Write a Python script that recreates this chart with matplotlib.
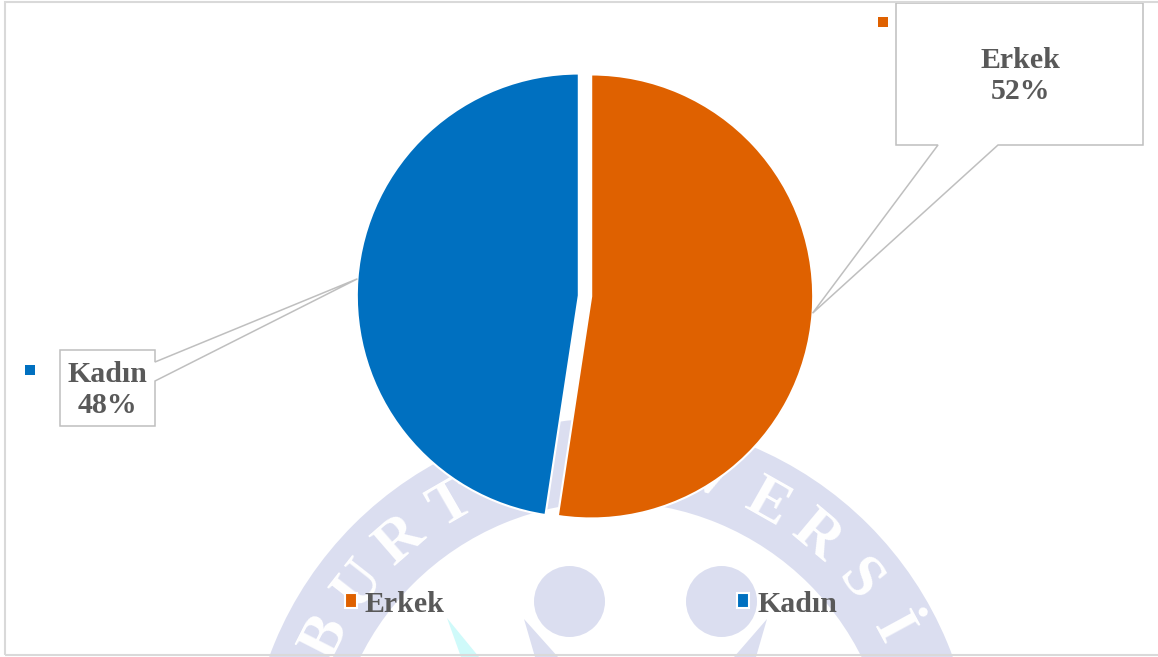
import matplotlib
matplotlib.use("Agg")
import matplotlib.pyplot as plt
import numpy as np
from matplotlib.patches import Wedge, Circle, Polygon, Rectangle

# data
labels = ["Erkek", "Kadın"]
shares = [52.4, 47.6]
colors = ["#DF6100", "#0070C0"]

W, H = 1158, 657
GREY = "#595959"
LAV = "#DBDEF0"
FONT = "Liberation Serif"


def Y(y):
    # image row -> data y
    return H - y


fig = plt.figure(figsize=(W / 100, H / 100), dpi=100)
ax = fig.add_axes([0, 0, 1, 1])

# --- faint logo watermark behind the chart ---
rc = (611, Y(782))
ax.add_patch(Wedge(rc, 364, 0, 360, width=84, facecolor=LAV, edgecolor="none", zorder=0))
letters = [("B", -63), ("U", -52), ("R", -41), ("T", -30),
           ("V", 18), ("E", 29.5), ("R", 40), ("S", 51), ("İ", 61.5)]
for ch, ang in letters:
    a = np.radians(ang)
    ax.text(rc[0] + 320 * np.sin(a), rc[1] + 320 * np.cos(a), ch, rotation=-ang,
            ha="center", va="center", color="white", fontsize=44, fontweight="bold",
            family=FONT, zorder=0.5, clip_on=True)
for cx in (569.5, 721.5):
    ax.add_patch(Circle((cx, Y(601.5)), 35.5, facecolor=LAV, edgecolor="none", zorder=0))
ax.add_patch(Polygon([(524, Y(619)), (558, Y(657)), (535, Y(657))], facecolor=LAV, edgecolor="none", zorder=0))
ax.add_patch(Polygon([(767, Y(619)), (756, Y(657)), (734, Y(657))], facecolor=LAV, edgecolor="none", zorder=0))
ax.add_patch(Polygon([(447, Y(618)), (479, Y(657)), (461, Y(657))], facecolor="#CFFAFA", edgecolor="none", zorder=0))

# --- pie ---
wedges, _ = ax.pie(shares, colors=colors, startangle=90, counterclock=False,
                   center=(585, Y(296)), radius=222, explode=[6.2, 6.2], frame=True,
                   wedgeprops=dict(edgecolor="white", linewidth=1.5))
for w in wedges:
    w.set_zorder(2)

# --- callout labels ---
total = sum(shares)
boxes = [
    # box (x0, y0, x1, y1) in image px, pointer base points, key square, text centre
    dict(box=(896, 3, 1143, 145), base=[(998, 145), (938, 145)], side="bottom",
         key=(878, 17), text=(1020, 76)),
    dict(box=(60, 350, 155, 426), base=[(155, 362), (155, 381)], side="right",
         key=(25, 365), text=(107, 390)),
]
for w, lab, val, b in zip(wedges, labels, shares, boxes):
    mid = np.radians((w.theta1 + w.theta2) / 2)
    tip = (w.center[0] + w.r * np.cos(mid), w.center[1] + w.r * np.sin(mid))
    x0, y0, x1, y1 = b["box"]
    if b["side"] == "bottom":
        pts = [(x0, y0), (x1, y0), (x1, y1), b["base"][0], None, b["base"][1], (x0, y1)]
    else:
        pts = [(x0, y0), (x1, y0), b["base"][0], None, b["base"][1], (x1, y1), (x0, y1)]
    poly = [(tip[0], tip[1]) if p is None else (p[0], Y(p[1])) for p in pts]
    ax.add_patch(Polygon(poly, closed=True, facecolor="white", edgecolor="#BFBFBF",
                         linewidth=1.1, zorder=3))
    ax.add_patch(Rectangle((b["key"][0], Y(b["key"][1] + 10)), 10, 10,
                           facecolor=w.get_facecolor(), edgecolor="none", zorder=3))
    ax.text(b["text"][0], Y(b["text"][1]), f"{lab}\n{val / total * 100:.0f}%",
            ha="center", va="center", color=GREY, fontsize=21.5, fontweight="bold",
            family=FONT, linespacing=1.15, zorder=4)

# --- legend ---
ax.legend(wedges, labels, loc="center", bbox_to_anchor=(591, Y(604)),
          bbox_transform=ax.transData, ncol=2, frameon=False,
          prop=dict(family=FONT, weight="bold", size=21.5), labelcolor=GREY,
          handlelength=0.4, handleheight=0.4, handletextpad=0.26, columnspacing=9.8)

# chart border
ax.add_patch(Rectangle((5, Y(655)), 1160, 653.5, facecolor="none", edgecolor="#D9D9D9",
                       linewidth=1.5, zorder=5, clip_on=False))

ax.set_xlim(0, W)
ax.set_ylim(0, H)
ax.set_aspect("equal")
ax.axis("off")

fig.savefig("out.png", dpi=100)
